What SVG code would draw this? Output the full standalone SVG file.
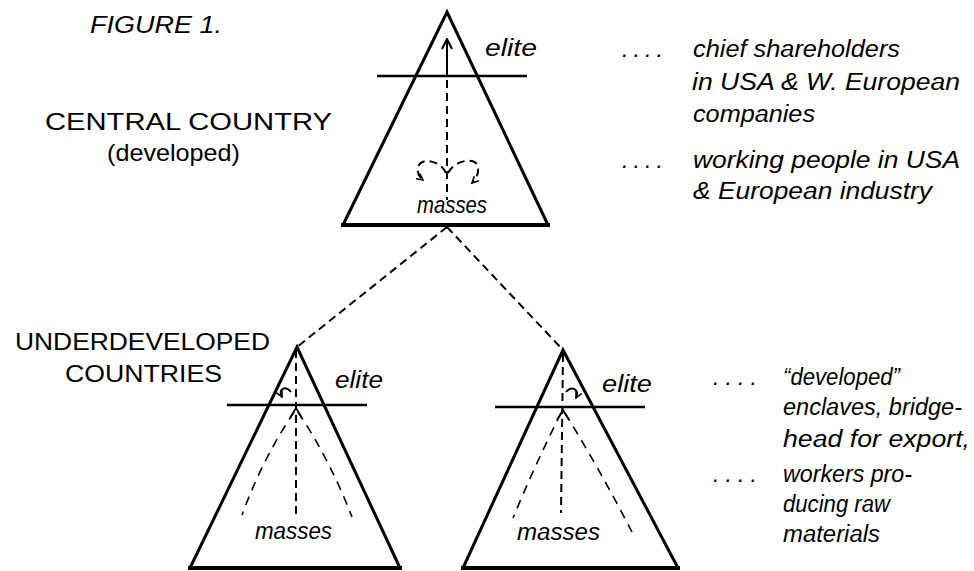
<svg xmlns="http://www.w3.org/2000/svg" width="974" height="571" viewBox="0 0 974 571">
<style>
  .tri{fill:none;stroke:#000;stroke-width:3;stroke-linejoin:miter}
  .base{fill:none;stroke:#000;stroke-width:4}
  .bar{fill:none;stroke:#000;stroke-width:2.5}
  .dash{fill:none;stroke:#000;stroke-width:2;stroke-dasharray:8 5}
  .fdash{fill:none;stroke:#000;stroke-width:1.6;stroke-dasharray:9 7}
  .cap{font-family:"Liberation Sans",Arial,sans-serif;font-size:24px;fill:#000}
  .it{font-family:"Liberation Sans",Arial,sans-serif;font-style:italic;font-size:23px;fill:#000}
</style>
<defs>
  <marker id="head" viewBox="0 0 12 12" refX="11" refY="6" markerWidth="12" markerHeight="12" markerUnits="userSpaceOnUse" orient="auto">
    <path d="M1,1 L11,6 L1,11" fill="none" stroke="#000" stroke-width="2"/>
  </marker>
  <marker id="small" viewBox="0 0 10 10" refX="9" refY="5" markerWidth="8" markerHeight="8" markerUnits="userSpaceOnUse" orient="auto">
    <path d="M1,1 L9,5 L1,9" fill="none" stroke="#000" stroke-width="2"/>
  </marker>
</defs>

<text class="it" x="90" y="33" textLength="132" lengthAdjust="spacingAndGlyphs">FIGURE 1.</text>

<g id="connectors">
  <path class="dash" d="M447,227 L297,347"/>
  <path class="dash" d="M447,227 L563,350"/>
</g>

<g id="central-country">
  <path class="tri" d="M343,225 L447,12 L548,225"/>
  <path class="base" d="M341,225 L550,225"/>
  <path class="bar" d="M377,76 L527,76"/>
  <path fill="none" stroke="#000" stroke-width="2" d="M447,76 L447,39" marker-end="url(#head)"/>
  <path class="dash" d="M447,80 L447,200"/>
  <path class="dash" stroke-dasharray="6 4" d="M446,173 C440,160 421,157 418,167 C417,173 419,177 423,180" marker-end="url(#small)"/>
  <path class="dash" stroke-dasharray="6 4" d="M448,173 C455,159 477,157 478,167 C479,174 476,179 472,183" marker-end="url(#small)"/>
  <text class="it" x="485" y="56" textLength="52" lengthAdjust="spacingAndGlyphs">elite</text>
  <text class="it" x="417" y="213" textLength="70" lengthAdjust="spacingAndGlyphs">masses</text>
  <text class="cap" x="45" y="130" textLength="287" lengthAdjust="spacingAndGlyphs">CENTRAL COUNTRY</text>
  <text class="cap" x="107" y="161" textLength="133" lengthAdjust="spacingAndGlyphs">(developed)</text>
</g>

<g id="underdeveloped-left">
  <path class="tri" d="M190,568 L297,347 L400,568"/>
  <path class="base" d="M188,568 L402,568"/>
  <path class="bar" d="M227,405 L367,405"/>
  <path class="dash" d="M296,350 L296,515"/>
  <path fill="none" stroke="#000" stroke-width="1.8" d="M290,418 L296,408 L302,418"/>
  <path class="fdash" d="M294,412 Q262,460 242,515"/>
  <path class="fdash" d="M298,412 Q330,460 352,517"/>
  <path fill="none" stroke="#000" stroke-width="1.8" d="M291,392 C285,385 278,389 282,397" marker-end="url(#small)"/>
  <text class="it" x="335" y="388" textLength="48" lengthAdjust="spacingAndGlyphs">elite</text>
  <text class="it" x="255" y="539" textLength="77" lengthAdjust="spacingAndGlyphs">masses</text>
  <text class="cap" x="15" y="350" textLength="255" lengthAdjust="spacingAndGlyphs">UNDERDEVELOPED</text>
  <text class="cap" x="65" y="382" textLength="157" lengthAdjust="spacingAndGlyphs">COUNTRIES</text>
</g>

<g id="underdeveloped-right">
  <path class="tri" d="M463,568 L563,350 L678,568"/>
  <path class="base" d="M461,568 L680,568"/>
  <path class="bar" d="M495,407 L645,407"/>
  <path class="dash" d="M563,354 L561,513"/>
  <path fill="none" stroke="#000" stroke-width="1.8" d="M557,420 L563,410 L569,420"/>
  <path class="fdash" d="M561,413 Q535,465 513,518"/>
  <path class="fdash" d="M565,413 Q600,470 632,532"/>
  <path fill="none" stroke="#000" stroke-width="1.8" d="M566,392 C572,385 580,390 576,398" marker-end="url(#small)"/>
  <text class="it" x="602" y="392" textLength="50" lengthAdjust="spacingAndGlyphs">elite</text>
  <text class="it" x="517" y="540" textLength="83" lengthAdjust="spacingAndGlyphs">masses</text>
</g>

<g id="notes-central">
  <text class="it" x="622" y="57" textLength="41" lengthAdjust="spacing">. . . .</text>
  <text class="it" x="693" y="57" textLength="207" lengthAdjust="spacingAndGlyphs">chief shareholders</text>
  <text class="it" x="692" y="90" textLength="268" lengthAdjust="spacingAndGlyphs">in USA &amp; W. European</text>
  <text class="it" x="693" y="122" textLength="122" lengthAdjust="spacingAndGlyphs">companies</text>
  <text class="it" x="622" y="168" textLength="41" lengthAdjust="spacing">. . . .</text>
  <text class="it" x="693" y="168" textLength="267" lengthAdjust="spacingAndGlyphs">working people in USA</text>
  <text class="it" x="693" y="199" textLength="239" lengthAdjust="spacingAndGlyphs">&amp; European industry</text>
</g>

<g id="notes-underdeveloped">
  <text class="it" x="713" y="385" textLength="44" lengthAdjust="spacing">. . . .</text>
  <text class="it" x="783" y="385" textLength="117" lengthAdjust="spacingAndGlyphs">“developed”</text>
  <text class="it" x="783" y="415" textLength="179" lengthAdjust="spacingAndGlyphs">enclaves, bridge-</text>
  <text class="it" x="783" y="447" textLength="187" lengthAdjust="spacingAndGlyphs">head for export,</text>
  <text class="it" x="713" y="482" textLength="44" lengthAdjust="spacing">. . . .</text>
  <text class="it" x="783" y="482" textLength="129" lengthAdjust="spacingAndGlyphs">workers pro-</text>
  <text class="it" x="783" y="512" textLength="107" lengthAdjust="spacingAndGlyphs">ducing raw</text>
  <text class="it" x="783" y="542" textLength="97" lengthAdjust="spacingAndGlyphs">materials</text>
</g>
</svg>
